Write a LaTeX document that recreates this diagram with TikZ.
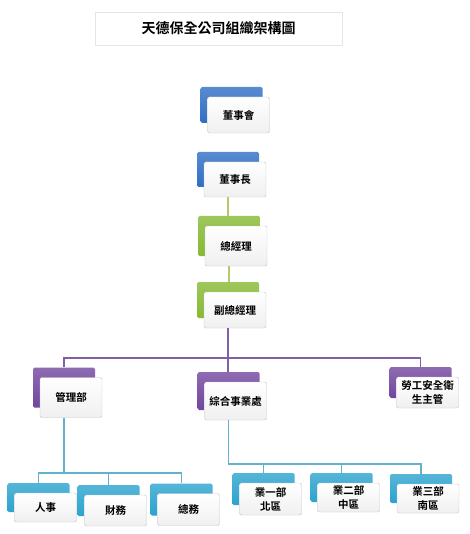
\documentclass[tikz,border=0pt]{standalone}
\usepackage{fontspec}
\usepackage{tikz}
\usepackage{xcolor}
\newfontfamily\cjk{Noto Sans CJK TC}[BoldFont={Noto Sans CJK TC Bold}]
\definecolor{azulCargo}{HTML}{2F6EC4}
\definecolor{verdeCargo}{HTML}{86B933}
\definecolor{moradoCargo}{HTML}{71469E}
\definecolor{celesteCargo}{HTML}{2BA3CE}
\definecolor{lineaVerde}{HTML}{B4C968}
\definecolor{lineaMorada}{HTML}{7F5FA8}
\definecolor{lineaCeleste}{HTML}{62B3CA}
\tikzset{
  fondo/.style={rounded corners=1.5pt,minimum width=62pt,inner sep=0pt},
  tarjeta/.style={draw=gray!45,rounded corners=1.5pt,top color=white,bottom color=gray!12,
    minimum width=62pt,inner sep=1pt,align=center,font=\cjk\bfseries\fontsize{10.5}{14}\selectfont},
  linea/.style={line width=1.3pt}
}
% caja de color detras y tarjeta blanca encima
\newcommand{\Cargo}[6]{%
  \node[fondo,top color=#5!80!white,bottom color=#5,minimum height=#4pt] (#1) at (#2,#3) {};
  \node[tarjeta,minimum height=#4pt] (#1w) at ([shift={(7pt,-10pt)}]#1.center) {#6};
}

\begin{document}
\begin{tikzpicture}[x=1pt,y=-1pt]
  \useasboundingbox (0,0) rectangle (469,534);

  \node[draw=gray!20,minimum width=247pt,minimum height=33pt,
    font=\cjk\bfseries\fontsize{14}{16}\selectfont] (titulo) at (218.5,28.5) {天德保全公司組織架構圖};

  \Cargo{dsh}{231.5}{105}{36}{azulCargo}{董事會}
  \Cargo{dsz}{228}{169.5}{35}{azulCargo}{董事長}
  \Cargo{zjl}{229}{236}{40}{verdeCargo}{總經理}
  \Cargo{fzjl}{228}{300}{36}{verdeCargo}{副總經理}

  \Cargo{glb}{64}{387.5}{40}{moradoCargo}{管理部}
  \Cargo{zh}{228.5}{391}{38}{moradoCargo}{綜合事業處}
  \Cargo{lg}{420.5}{382.5}{31}{moradoCargo}{勞工安全衛\\生主管}

  \Cargo{rs}{38.5}{497.5}{29}{celesteCargo}{人事}
  \Cargo{cw}{108.5}{500.5}{31}{celesteCargo}{財務}
  \Cargo{zw}{181.5}{499.5}{32}{celesteCargo}{總務}

  \Cargo{y1}{263.5}{489}{32}{celesteCargo}{業一部\\北區}
  \Cargo{y2}{341.5}{487.5}{29}{celesteCargo}{業二部\\中區}
  \Cargo{y3}{421}{488.5}{29}{celesteCargo}{業三部\\南區}

  \coordinate (busM) at (228,358);
  \coordinate (busG) at (64,473);
  \coordinate (busZ) at (228.5,464);

  \draw[linea,lineaVerde] (dszw.south -| dsz) -- (dsz |- zjl.north);
  \draw[linea,lineaVerde] (zjlw.south -| zjl) -- (zjl |- fzjl.north);
  \draw[linea,lineaMorada] (fzjlw.south -| fzjl) -- (busM);
  \draw[linea,lineaMorada] (glb.north) |- (busM) -| (lg.north);
  \draw[linea,lineaMorada] (busM) -- (busM |- zh.north);

  \draw[linea,lineaCeleste] (glbw.south -| glb) -- (busG);
  \draw[linea,lineaCeleste] (rs.north) |- (busG) -| (zw.north);
  \draw[linea,lineaCeleste] (cw.north) -- (cw.north |- busG);
  \draw[linea,lineaCeleste] (zhw.south -| zh) -- (busZ) -| (y3.north);
  \draw[linea,lineaCeleste] (y1.north) -- (y1.north |- busZ);
  \draw[linea,lineaCeleste] (y2.north) -- (y2.north |- busZ);
\end{tikzpicture}
\end{document}
